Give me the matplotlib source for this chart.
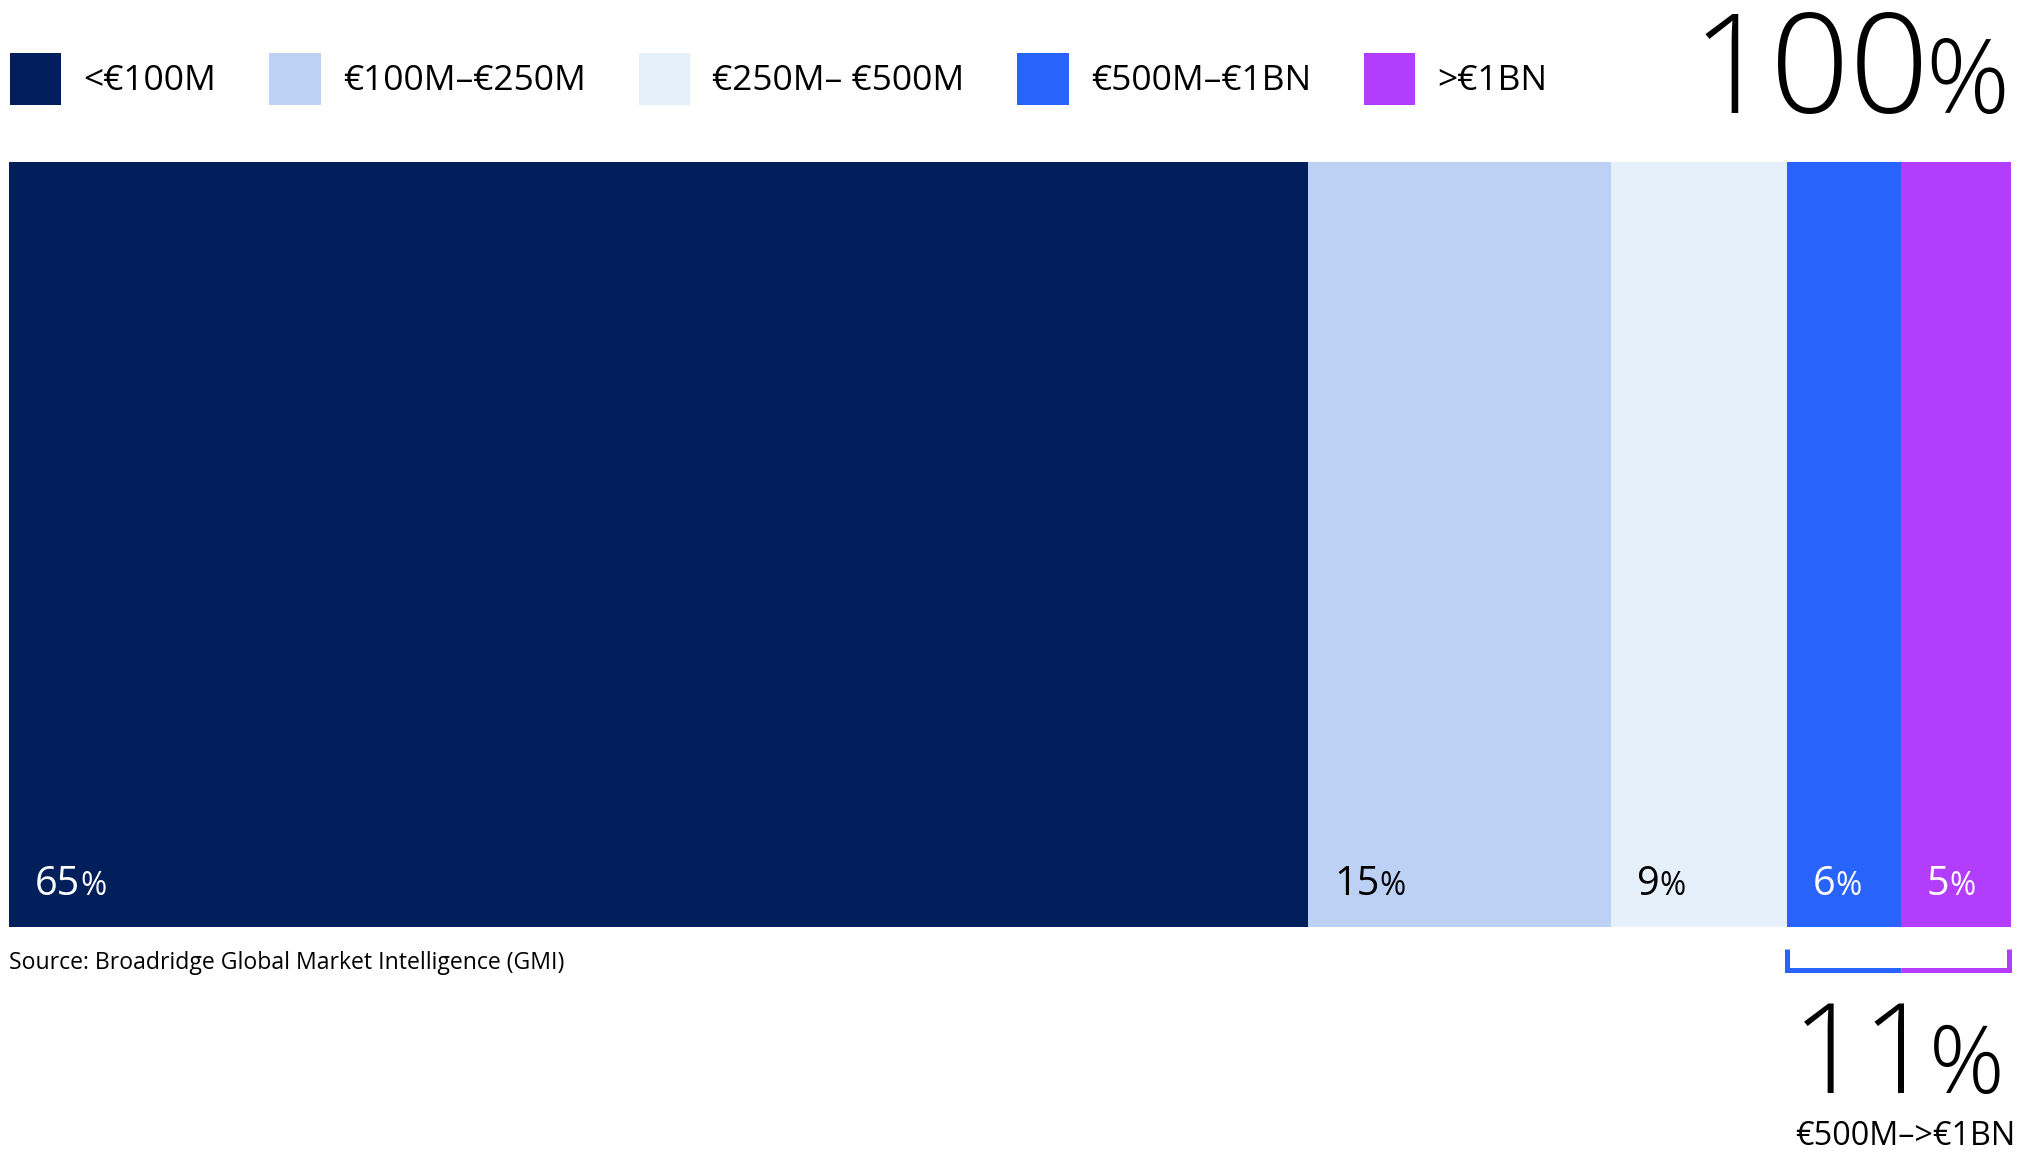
import matplotlib
matplotlib.use('Agg')
import matplotlib.pyplot as plt
from matplotlib.patches import Patch
from matplotlib.transforms import blended_transform_factory

plt.rcParams['font.family'] = ['Open Sans', 'DejaVu Sans']

# data
categories = ['<€100M', '€100M–€250M', '€250M– €500M', '€500M–€1BN', '>€1BN']
shares = [64.9, 15.1, 8.8, 5.7, 5.5]        # segment widths as drawn
share_labels = [65, 15, 9, 6, 5]            # rounded labels
colors = ['#001F5B', '#BDD1F5', '#E6F0FB', '#2864FC', '#B33DFD']
label_colors = ['white', 'black', 'black', 'white', 'white']
total_value = 100
combined_value = 11
combined_name = '€500M–>€1BN'
source = 'Source: Broadridge Global Market Intelligence (GMI)'

W, H = 2019, 1156
fig = plt.figure(figsize=(W / 100, H / 100), dpi=100)
renderer = fig.canvas.get_renderer()


def px(x, y):
    # pixel position (from top-left) -> figure fraction
    return x / W, 1 - y / H


def pct_text(x, y, num, size, color='black', ha='left', pct_scale=0.75, gap=0.02, weight='light'):
    # number followed by a smaller % sign, both on the same baseline
    t1 = fig.text(x, y, str(num), fontsize=size, color=color, va='baseline', ha='left', fontweight=weight)
    t2 = fig.text(x, y, '%', fontsize=size * pct_scale, color=color, va='baseline', ha='left', fontweight=weight)
    b1 = t1.get_window_extent(renderer)
    g = size * gap
    t2.set_x(x + (b1.width + g) / W)
    b2 = t2.get_window_extent(renderer)
    total = (b1.width + g + b2.width) / W
    shift = {'left': 0, 'center': -total / 2, 'right': -total}[ha]
    t1.set_x(x + shift)
    t2.set_x(x + shift + (b1.width + g) / W)


# the stacked bar
x0, y1 = px(9, 162)
x1, y0 = px(2011, 927)
ax = fig.add_axes([x0, y0, x1 - x0, y1 - y0])
left = 0
starts = []
for val, col in zip(shares, colors):
    ax.barh(0, val, left=left, height=1, color=col, edgecolor='none')
    starts.append(left)
    left += val
ax.set_xlim(0, sum(shares))
ax.set_ylim(-0.5, 0.5)
ax.axis('off')

# labels inside the bars
for st, lab, lc in zip(starts, share_labels, label_colors):
    xf = ax.transData.transform((st + 1.3, 0))[0] / W
    pct_text(xf, 1 - 895 / H, lab, 28.5, color=lc, pct_scale=0.8, gap=0.0, weight='normal')

# legend
handles = [Patch(facecolor=c, edgecolor='none', label=l) for c, l in zip(colors, categories)]
fig.legend(handles=handles, loc='center left', bbox_to_anchor=px(10, 79), ncol=5,
           frameon=False, fontsize=25.5, handlelength=1.45, handleheight=1.9,
           handletextpad=0.62, columnspacing=1.5, borderpad=0, borderaxespad=0)

# big total
pct_text(2009 / W, 1 - 113 / H, total_value, 100, ha='right', gap=-0.04)

# source
fig.text(9 / W, 1 - 963 / H, source, fontsize=16.6, va='center', ha='left')

# bracket under the last two segments
tr = blended_transform_factory(ax.transData, fig.transFigure)
yb = 1 - 970 / H
yt = 1 - 949 / H
mid = starts[3] + shares[3]
end = sum(shares) - 0.12
ax.plot([starts[3], starts[3], mid], [yt, yb, yb], color=colors[3], lw=3.6,
        transform=tr, clip_on=False, solid_capstyle='butt', solid_joinstyle='miter')
ax.plot([mid, end, end], [yb, yb, yt], color=colors[4], lw=3.6,
        transform=tr, clip_on=False, solid_capstyle='butt', solid_joinstyle='miter')

# combined share
pct_text(1898 / W, 1 - 1093 / H, combined_value, 90, ha='center', gap=-0.07)
fig.text(1905 / W, 1 - 1145 / H, combined_name, fontsize=23.3, va='baseline', ha='center')

fig.savefig('out.png', dpi=100, facecolor='white')
